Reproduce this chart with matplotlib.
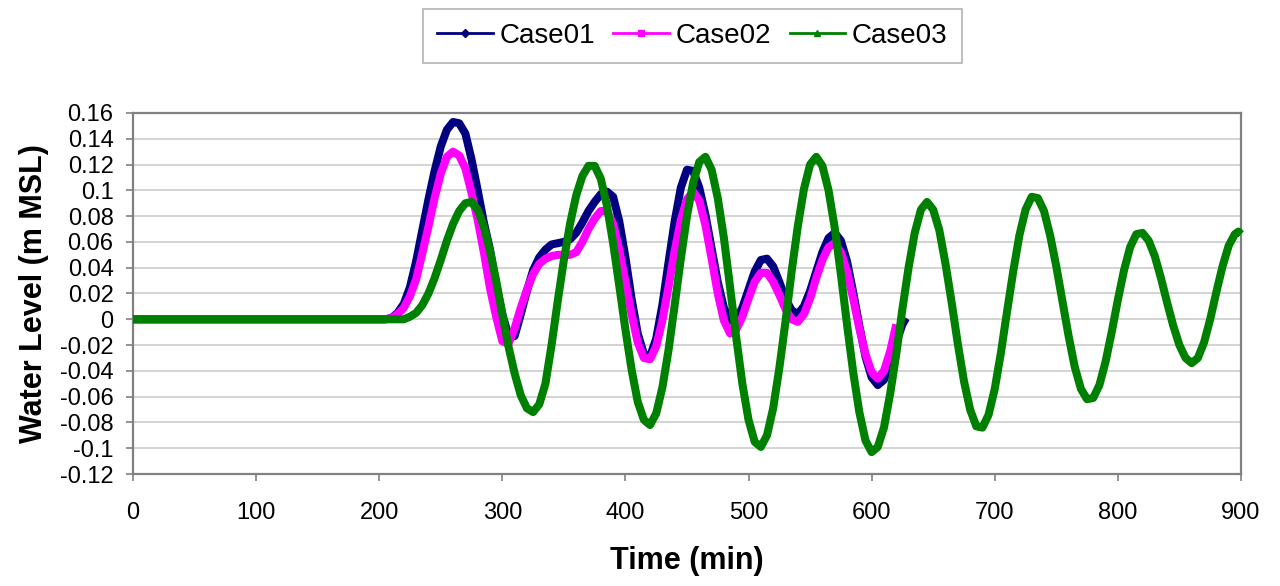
import matplotlib
matplotlib.use("Agg")
import matplotlib.pyplot as plt
from matplotlib.lines import Line2D
from matplotlib.ticker import FuncFormatter

plt.rcParams['font.family'] = ['Liberation Sans', 'DejaVu Sans']

# water level (m MSL) vs time (min)
t_case01 = [0, 205] + list(range(210, 630, 5)) + [628]
wl_case01 = [0.0, 0.0,
             0.001, 0.005, 0.012, 0.025, 0.045, 0.069, 0.093, 0.115, 0.134, 0.147,
             0.153, 0.152, 0.144, 0.124, 0.100, 0.075, 0.054, 0.027, 0.004, -0.013,
             -0.013, 0.004, 0.022, 0.038, 0.048, 0.054, 0.058, 0.059, 0.060, 0.062,
             0.067, 0.075, 0.084, 0.091, 0.097, 0.099, 0.095, 0.076, 0.048, 0.016,
             -0.011, -0.027, -0.029, -0.015, 0.011, 0.044, 0.076, 0.102, 0.116, 0.115,
             0.102, 0.081, 0.055, 0.029, 0.009, -0.001, 0.000, 0.009, 0.023, 0.037,
             0.046, 0.047, 0.041, 0.029, 0.016, 0.007, 0.004, 0.010, 0.022, 0.037,
             0.052, 0.063, 0.067, 0.061, 0.045, 0.021, -0.005, -0.029, -0.045, -0.051,
             -0.047, -0.035, -0.018, -0.004,
             0.001]

t_case02 = [0, 205] + list(range(210, 625, 5))
wl_case02 = [0.0, 0.0,
             0.001, 0.004, 0.009, 0.018, 0.031, 0.051, 0.072, 0.094, 0.113, 0.126,
             0.130, 0.127, 0.117, 0.098, 0.077, 0.052, 0.024, 0.002, -0.017, -0.019,
             -0.007, 0.009, 0.023, 0.035, 0.043, 0.047, 0.049, 0.050, 0.050, 0.050,
             0.052, 0.060, 0.070, 0.078, 0.084, 0.084, 0.074, 0.054, 0.029, 0.004,
             -0.018, -0.030, -0.031, -0.021, -0.001, 0.025, 0.053, 0.077, 0.093, 0.099,
             0.092, 0.073, 0.047, 0.020, -0.001, -0.011, -0.008, 0.002, 0.016, 0.029,
             0.036, 0.036, 0.029, 0.019, 0.008, 0.000, -0.002, 0.004, 0.016, 0.032,
             0.046, 0.056, 0.059, 0.052, 0.037, 0.016, -0.007, -0.027, -0.041, -0.046,
             -0.040, -0.025, -0.004]

t_case03 = [0, 215] + list(range(220, 900, 5)) + [898, 900]
wl_case03 = [0.0, 0.0,
             0.000, 0.002, 0.005, 0.011, 0.020, 0.032, 0.046, 0.061, 0.074, 0.084,
             0.090, 0.091, 0.085, 0.072, 0.053, 0.030, 0.004, -0.021, -0.042, -0.059,
             -0.069, -0.072, -0.066, -0.050, -0.020, 0.014, 0.046, 0.074, 0.096, 0.111,
             0.119, 0.119, 0.109, 0.088, 0.059, 0.026, -0.008, -0.039, -0.064, -0.078,
             -0.082, -0.073, -0.053, -0.024, 0.011, 0.047, 0.080, 0.106, 0.122, 0.126,
             0.116, 0.094, 0.063, 0.025, -0.014, -0.050, -0.078, -0.095, -0.099, -0.090,
             -0.069, -0.038, -0.002, 0.037, 0.072, 0.101, 0.120, 0.126, 0.119, 0.100,
             0.071, 0.035, -0.004, -0.041, -0.072, -0.094, -0.103, -0.099, -0.084, -0.058,
             -0.027, 0.008, 0.040, 0.067, 0.085, 0.091, 0.085, 0.069, 0.043, 0.013,
             -0.019, -0.048, -0.070, -0.083, -0.084, -0.074, -0.054, -0.026, 0.006, 0.037,
             0.065, 0.085, 0.095, 0.094, 0.084, 0.065, 0.041, 0.014, -0.013, -0.037,
             -0.054, -0.062, -0.061, -0.051, -0.033, -0.010, 0.015, 0.038, 0.056, 0.066,
             0.067, 0.061, 0.049, 0.032, 0.013, -0.005, -0.020, -0.030, -0.034, -0.030,
             -0.018, 0.000, 0.021, 0.041, 0.057, 0.066,
             0.068, 0.066]

labels = ["Case01", "Case02", "Case03"]
colors = ["#000080", "#FF00FF", "#008000"]
markers = ["D", "s", "^"]

xticks = list(range(0, 1000, 100))
yticks = [-0.12, -0.10, -0.08, -0.06, -0.04, -0.02, 0.0,
          0.02, 0.04, 0.06, 0.08, 0.10, 0.12, 0.14, 0.16]

fig = plt.figure(figsize=(12.8, 5.86), dpi=100)
ax = fig.add_axes([0.1039, 0.1911, 0.8656, 0.6161])

series = [(t_case01, wl_case01), (t_case02, wl_case02), (t_case03, wl_case03)]
for (t, wl), c in zip(series, colors):
    ax.plot(t, wl, color=c, lw=5.8, solid_capstyle='butt',
            solid_joinstyle='round', clip_on=False, zorder=3)

ax.set_xlim(0, 900)
ax.set_ylim(-0.12, 0.16)
ax.set_xticks(xticks)
ax.set_yticks(yticks)
ax.yaxis.set_major_formatter(FuncFormatter(lambda v, p: "%g" % (round(v, 2) + 0.0)))
ax.yaxis.grid(True, color="#cccccc", lw=1.2)
ax.set_axisbelow(True)

for s in ax.spines.values():
    s.set_color("#808080")
    s.set_linewidth(1.6)

ax.tick_params(axis='both', colors="#808080", length=5, width=1.2,
               labelcolor="black", labelsize=17)
ax.tick_params(axis='x', pad=15)
ax.tick_params(axis='y', pad=9)

ax.set_xlabel("Time (min)", fontsize=22, fontweight='bold', labelpad=16)
ax.set_ylabel("Water Level (m MSL)", fontsize=22, fontweight='bold', labelpad=8)

handles = [Line2D([], [], color=c, lw=2, marker=m, ms=4)
           for c, m in zip(colors, markers)]
leg = fig.legend(handles, labels, loc='center', bbox_to_anchor=(0.541, 0.939),
                 ncol=3, fontsize=20, frameon=True, fancybox=False,
                 handlelength=2.0, handletextpad=0.25, columnspacing=0.65,
                 borderpad=0.5, borderaxespad=0)
leg.get_frame().set_edgecolor("#a0a0a0")
leg.get_frame().set_linewidth(1.2)

fig.savefig("out.png", dpi=100)
